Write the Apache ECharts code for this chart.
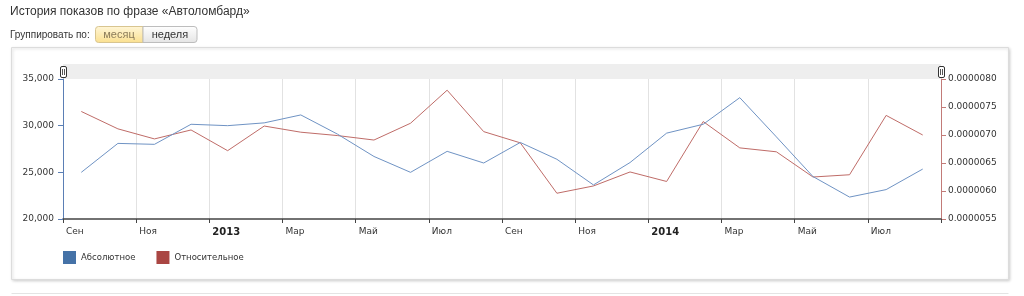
<!DOCTYPE html>
<html><head><meta charset="utf-8">
<script src="https://cdn.jsdelivr.net/npm/echarts@6/dist/echarts.min.js"></script>
<style>html,body{margin:0;padding:0;background:#fff;}#c{width:1024px;height:296px;}</style>
</head><body><div id="c"></div>
<script>
// Monthly periods (points plotted at the middle of each month)
const months = ['2012-09','2012-10','2012-11','2012-12','2013-01','2013-02','2013-03','2013-04',
  '2013-05','2013-06','2013-07','2013-08','2013-09','2013-10','2013-11','2013-12',
  '2014-01','2014-02','2014-03','2014-04','2014-05','2014-06','2014-07','2014-08'];
// Tick labels every two months, starting at 1 Sep 2012
const tickLabels = ['Сен','Ноя','2013','Мар','Май','Июл','Сен','Ноя','2014','Мар','Май','Июл',''];
const yearLabels = ['2013','2014'];
const seriesNames = ['Абсолютное','Относительное'];
const absolute = [25000,28100,28000,30150,30000,30300,31150,29100,26700,25000,27250,26000,
  28200,26400,23650,26050,29200,30150,33000,28800,24550,22350,23150,25350];
const relative = [0.00000742,0.00000711,0.00000693,0.00000709,0.00000672,0.00000716,0.00000705,0.00000699,
  0.00000691,0.00000721,0.00000780,0.00000706,0.00000686,0.00000596,0.00000609,0.00000634,
  0.00000617,0.00000724,0.00000677,0.00000670,0.00000625,0.00000629,0.00000735,0.00000700];
const leftTicks = {min:20000, max:35000, step:5000};
const rightTicks = {min:0.0000055, max:0.000008, step:0.0000005};

const SCALE = 1e7; // right axis plotted in 1e-7 units to avoid float noise
const absData = absolute.map((v,i)=>[i+0.5, v]);
const relData = relative.map((v,i)=>[i+0.5, v*SCALE]);

const FONT = 'DejaVu Sans';
const chart = echarts.init(document.getElementById('c'), null, {renderer:'canvas'});
chart.setOption({
  animation:false,
  backgroundColor:'#fff',
  grid:{left:63, top:79, width:878, height:140, containLabel:false},
  legend:{
    data:seriesNames, left:63, top:251, padding:0, icon:'rect', itemWidth:13, itemHeight:13, itemGap:21,
    textStyle:{fontFamily:FONT, fontSize:8.5, color:'#333'}
  },
  xAxis:{
    type:'value', min:0, max:months.length, interval:2,
    axisLine:{show:true, onZero:false, lineStyle:{color:'#444', width:1.5}},
    axisTick:{show:true, length:4, lineStyle:{color:'#444'}},
    splitLine:{show:true, lineStyle:{color:'#e2e2e2'}},
    axisLabel:{
      align:'left', margin:8, padding:[0,0,0,3], color:'#333', fontFamily:FONT, fontSize:9,
      showMinLabel:true, showMaxLabel:true,
      formatter:v=>{const t=tickLabels[Math.round(v/2)]||''; return yearLabels.includes(t)?'{b|'+t+'}':t;},
      rich:{b:{fontWeight:'bold', fontSize:10, fontFamily:FONT, color:'#222'}}
    }
  },
  yAxis:[{
    type:'value', position:'left', min:leftTicks.min, max:leftTicks.max, interval:leftTicks.step,
    axisLine:{show:true, lineStyle:{color:'#5b7fb5'}},
    axisTick:{show:true, length:5, lineStyle:{color:'#5b7fb5'}},
    splitLine:{show:false},
    axisLabel:{margin:9, color:'#333', fontFamily:FONT, fontSize:9,
      formatter:v=>v.toLocaleString('en-US')}
  },{
    type:'value', position:'right', min:rightTicks.min*SCALE, max:rightTicks.max*SCALE, interval:rightTicks.step*SCALE,
    axisLine:{show:true, lineStyle:{color:'#c27b78'}},
    axisTick:{show:true, length:5, lineStyle:{color:'#c27b78'}},
    splitLine:{show:false},
    axisLabel:{margin:7, color:'#333', fontFamily:FONT, fontSize:9,
      formatter:v=>(v/SCALE).toFixed(7)}
  }],
  series:[{
    name:seriesNames[0], type:'line', yAxisIndex:0, data:absData, showSymbol:false, symbol:'none',
    itemStyle:{color:'#4572A7'}, lineStyle:{color:'#6f93c4', width:1}, z:3
  },{
    name:seriesNames[1], type:'line', yAxisIndex:1, data:relData, showSymbol:false, symbol:'none',
    itemStyle:{color:'#AA4643'}, lineStyle:{color:'#bf6c68', width:1}, z:2
  }],
  graphic:[
    {type:'rect', z:-100, shape:{x:11.5, y:47.5, width:997, height:232}, style:{fill:'#fff', stroke:'#dcdcdc', lineWidth:1, shadowBlur:3, shadowOffsetX:1, shadowOffsetY:1, shadowColor:'rgba(0,0,0,0.18)'}},
    {type:'line', z:-100, shape:{x1:11.5, y1:293.5, x2:1008.5, y2:293.5}, style:{stroke:'#e4e4e4', lineWidth:1}},
    {type:'text', left:10, top:6, style:{text:'История показов по фразе «Автоломбард»', font:'12px "Liberation Sans", Arial', fill:'#333'}},
    {type:'text', left:10, top:30, style:{text:'Группировать по:', font:'10px "Liberation Sans", Arial', fill:'#333'}},
    {type:'rect', shape:{x:95.5, y:26.5, width:47.5, height:16, r:[3,0,0,3]},
      style:{fill:new echarts.graphic.LinearGradient(0,0,0,1,[{offset:0,color:'#fff6d8'},{offset:1,color:'#fbe08f'}]), stroke:'#d8c590', lineWidth:1}},
    {type:'text', x:119, y:35, style:{text:'месяц', font:'11px "Liberation Sans", Arial', fill:'#8c7c5a', align:'center', verticalAlign:'middle'}},
    {type:'rect', shape:{x:143, y:26.5, width:54, height:16, r:[0,3,3,0]},
      style:{fill:new echarts.graphic.LinearGradient(0,0,0,1,[{offset:0,color:'#ffffff'},{offset:1,color:'#e4e4e4'}]), stroke:'#bdbdbd', lineWidth:1}},
    {type:'text', x:170, y:35, style:{text:'неделя', font:'11px "Liberation Sans", Arial', fill:'#333', align:'center', verticalAlign:'middle'}},
    {type:'rect', shape:{x:63, y:64, width:878, height:15}, style:{fill:'#eeeeee'}},
    {type:'group', children:[
      {type:'rect', shape:{x:60.5, y:66.5, width:6, height:11, r:1.5}, style:{fill:'#fff', stroke:'#333', lineWidth:1}},
      {type:'line', shape:{x1:62.5, y1:69, x2:62.5, y2:75}, style:{stroke:'#555', lineWidth:1}},
      {type:'line', shape:{x1:64.5, y1:69, x2:64.5, y2:75}, style:{stroke:'#555', lineWidth:1}}
    ]},
    {type:'group', children:[
      {type:'rect', shape:{x:938.5, y:66.5, width:6, height:11, r:1.5}, style:{fill:'#fff', stroke:'#333', lineWidth:1}},
      {type:'line', shape:{x1:940.5, y1:69, x2:940.5, y2:75}, style:{stroke:'#555', lineWidth:1}},
      {type:'line', shape:{x1:942.5, y1:69, x2:942.5, y2:75}, style:{stroke:'#555', lineWidth:1}}
    ]}
  ]
});
</script></body></html>
